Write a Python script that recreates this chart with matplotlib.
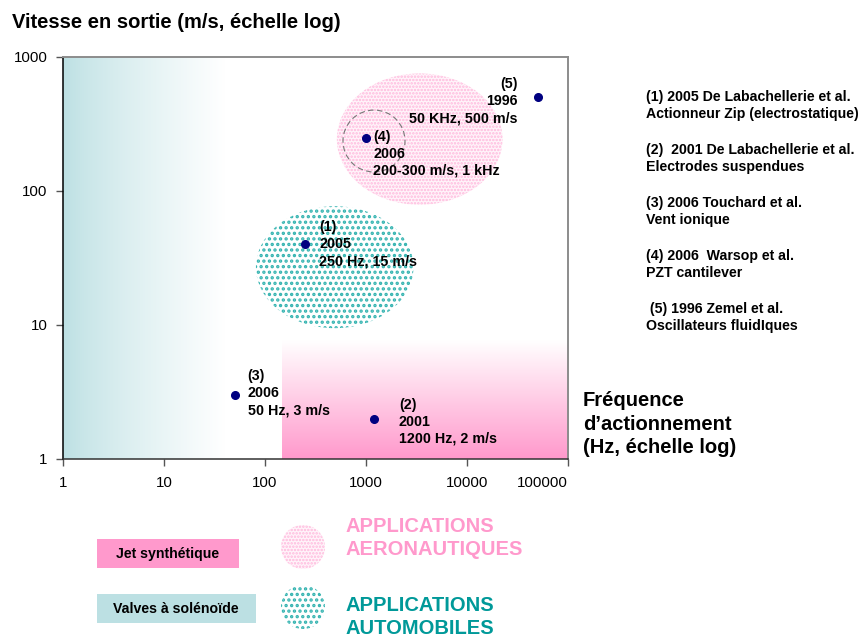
import numpy as np
import matplotlib
matplotlib.use("Agg")
import matplotlib.pyplot as plt
from matplotlib.patches import Ellipse, Rectangle
from matplotlib.transforms import Affine2D
from matplotlib.colors import to_rgb

plt.rcParams['font.family'] = ['Liberation Sans', 'DejaVu Sans']

# ---- data -------------------------------------------------------------
frequency_hz = [250, 1200, 50, 1000, 50000]
velocity_ms = [40, 2, 3, 250, 500]
point_labels = [
    "(1)\n2005\n250 Hz, 15 m/s",
    "(2)\n2001\n1200 Hz, 2 m/s",
    "(3)\n2006\n50 Hz, 3 m/s",
    "(4)\n2006\n200-300 m/s, 1 kHz",
    "(5)\n1996\n50 KHz, 500 m/s",
]
x_ticks = [1, 10, 100, 1000, 10000, 100000]
x_tick_labels = ["1", "10", "100", "1000", "10000", "100000"]
y_ticks = [1, 10, 100, 1000]
y_tick_labels = ["1", "10", "100", "1000"]

references = [
    "(1) 2005 De Labachellerie et al.\nActionneur Zip (electrostatique)",
    "(2)  2001 De Labachellerie et al.\nElectrodes suspendues",
    "(3) 2006 Touchard et al.\nVent ionique",
    "(4) 2006  Warsop et al.\nPZT cantilever",
    " (5) 1996 Zemel et al.\nOscillateurs fluidIques",
]

# regions (frequency range in Hz, velocity range in m/s)
solenoid_freq = (1, 40)          # teal band, fades out to the right
synthetic_freq = (147, 100000)   # pink band
synthetic_vel = (1, 7.7)
# application domains: centre (Hz, m/s) and half-extent in decades
aero_center, aero_half = (3400, 244), (0.82, 0.49)
auto_center, auto_half = (490, 27), (0.78, 0.455)
pzt_center, pzt_half = (1200, 236), (0.307, 0.231)

PINK = "#FF99CC"
TEAL = "#BCE0E3"
TEAL_DARK = "#009999"
NAVY = "#000080"

# ---- figure -----------------------------------------------------------
W, H, DPI = 867, 637, 100
fig = plt.figure(figsize=(W / DPI, H / DPI), dpi=DPI)
pix = Affine2D().scale(1 / DPI, -1 / DPI).translate(0, H / DPI) + fig.dpi_scale_trans

ax = fig.add_axes([63 / W, 1 - 459 / H, 505 / W, 402 / H])
ax.set_xscale("log")
ax.set_yscale("log")
ax.set_xlim(1, 100000)
ax.set_ylim(1, 1000)
ax.set_autoscale_on(False)

# coordinates in decades (log10) mapped onto the axes box
dec = Affine2D().scale(1 / 5, 1 / 3) + ax.transAxes

# solenoid valves: horizontal fade
n = 256
teal = np.array(to_rgb(TEAL))
t = np.linspace(0, 1, n)[None, :, None] ** 0.8
grad_h = teal * (1 - t) + np.ones(3) * t
grad_h = np.concatenate([grad_h] * 2, axis=0)
ax.imshow(grad_h, extent=(np.log10(solenoid_freq[0]), np.log10(solenoid_freq[1]), 0, 3),
          transform=dec, aspect="auto", interpolation="bilinear", zorder=0)

# synthetic jets: vertical fade
pink = np.array(to_rgb(PINK))
s = np.linspace(0, 1, n)[:, None, None]
grad_v = np.ones(3) * (1 - s) + pink * s
grad_v = np.concatenate([grad_v] * 2, axis=1)
ax.imshow(grad_v, extent=(np.log10(synthetic_freq[0]), np.log10(synthetic_freq[1]),
                          np.log10(synthetic_vel[0]), np.log10(synthetic_vel[1])),
          transform=dec, aspect="auto", interpolation="bilinear", origin="upper", zorder=0)


def domain(center, half, face, hatch_color, hatch):
    e = Ellipse((np.log10(center[0]), np.log10(center[1])), 2 * half[0], 2 * half[1],
                transform=dec, facecolor=face, edgecolor=hatch_color, hatch=hatch,
                linewidth=0, zorder=1)
    ax.add_patch(e)


with plt.rc_context({"hatch.linewidth": 1.2}):
    domain(aero_center, aero_half, "#FFF4FA", "#FFB8DC", ".....")
with plt.rc_context({"hatch.linewidth": 1.6}):
    domain(auto_center, auto_half, "white", "#33B3B0", "...")

ax.add_patch(Ellipse((np.log10(pzt_center[0]), np.log10(pzt_center[1])),
                     2 * pzt_half[0], 2 * pzt_half[1], transform=dec,
                     fill=False, edgecolor="#777777", linestyle=(0, (5, 3)),
                     linewidth=0.8, zorder=2))

ax.plot(frequency_hz, velocity_ms, "o", color=NAVY, markersize=5.5, zorder=4,
        linestyle="none")

offsets = [(14, 0, "left"), (25, -3, "left"), (13, 2, "left"),
           (7, -16, "left"), (-20, -4, "right")]
for f, v, lab, (dx, dy, ha) in zip(frequency_hz, velocity_ms, point_labels, offsets):
    ax.annotate(lab, (f, v), xytext=(dx, dy), textcoords="offset pixels",
                ha=ha, va="center", multialignment=ha, fontsize=10.3,
                fontweight="bold", linespacing=1.28, zorder=5)

ax.set_xticks(x_ticks)
ax.set_xticklabels(x_tick_labels)
ax.set_yticks(y_ticks)
ax.set_yticklabels(y_tick_labels)
ax.minorticks_off()
ax.tick_params(axis="both", direction="out", length=5, width=1, color="#555555",
               labelsize=10.8, pad=6)
ax.tick_params(axis="x", pad=7)
ax.get_xticklabels()[-1].set_horizontalalignment("right")
for side in ("top", "right"):
    ax.spines[side].set_color("#8C8C8C")
    ax.spines[side].set_linewidth(1.4)
ax.spines["left"].set_color("black")
ax.spines["bottom"].set_color("#333333")
ax.spines["left"].set_linewidth(1.1)
ax.spines["bottom"].set_linewidth(1.1)

# ---- titles -----------------------------------------------------------
fig.text(12, 23, "Vitesse en sortie (m/s, échelle log)", transform=pix,
         fontsize=14.5, fontweight="bold", va="center", ha="left")
fig.text(583, 424, "Fréquence\nd\u2019actionnement\n(Hz, échelle log)", transform=pix,
         fontsize=14.5, fontweight="bold", va="center", ha="left", linespacing=1.32)

for i, ref in enumerate(references):
    fig.text(646, 105.5 + 53 * i, ref, transform=pix, fontsize=10.2,
             fontweight="bold", va="center", ha="left", linespacing=1.28)

# ---- legend -----------------------------------------------------------
fig.add_artist(Rectangle((97, 539), 142, 29, transform=pix, facecolor=PINK,
                         edgecolor="none"))
fig.text(168, 554, "Jet synthétique", transform=pix, fontsize=10.2,
         fontweight="bold", ha="center", va="center")
fig.add_artist(Rectangle((97, 594), 159, 29, transform=pix, facecolor=TEAL,
                         edgecolor="none"))
fig.text(176, 609, "Valves à solénoïde", transform=pix, fontsize=10.2,
         fontweight="bold", ha="center", va="center")

with plt.rc_context({"hatch.linewidth": 1.2}):
    fig.add_artist(Ellipse((303, 547), 44, 44, transform=pix, facecolor="#FFF4FA",
                           edgecolor="#FFB8DC", hatch=".....", linewidth=0))
with plt.rc_context({"hatch.linewidth": 1.6}):
    fig.add_artist(Ellipse((303, 607), 44, 44, transform=pix, facecolor="white",
                           edgecolor="#33B3B0", hatch="...", linewidth=0))

fig.text(346, 538, "APPLICATIONS\nAERONAUTIQUES", transform=pix, fontsize=14.5,
         fontweight="bold", color=PINK, ha="left", va="center", linespacing=1.3)
fig.text(346, 617, "APPLICATIONS\nAUTOMOBILES", transform=pix, fontsize=14.5,
         fontweight="bold", color=TEAL_DARK, ha="left", va="center", linespacing=1.25)

fig.savefig("out.png", dpi=DPI)
